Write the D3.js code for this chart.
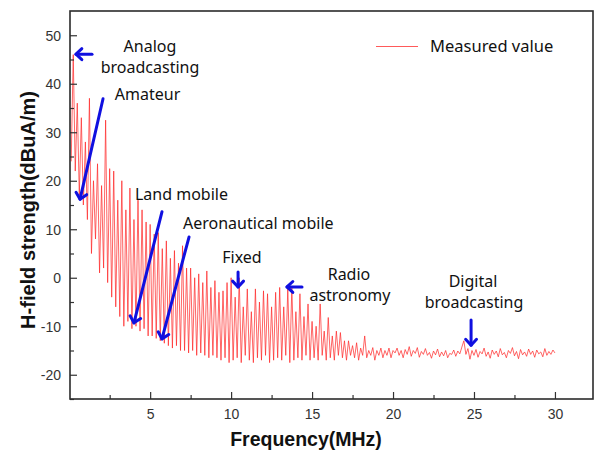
<!DOCTYPE html>
<html>
<head>
    <style>
        body { margin: 0; background: #fff; }
        svg { display: block; }
    </style>
</head>
<body>
    <svg width="596" height="452"></svg>

    <script src="https://d3js.org/d3.v7.min.js"></script>
    <script>
        // Measured H-field (dBuA/m), sampled every 0.125 MHz, one array per 5 MHz band
        const fStep = 0.125;
        const h0_5 = [24, 46, 22, 36, 17, 33, 15, 28, 12, 37, 5, 20, 8, 23.5, 1, 19, 2, 32.5, -1, 22.5,
                      -4, 22, -6, 16, -8, 20, -10, 14, -9, 18.5, -10.5, 12, -10, 16, -11, 14, -10.5, 11.5, -12, 11];
        const h5_10 = [-12, 9, -12.5, 9.3, -13, 6, -13.5, 7.6, -14, 4, -14.5, 5.6, -14, 3, -15, 6.6, -15, 2, -15.5, 2,
                       -15, 0, -16, 0.8, -15.5, -1, -16, 1.4, -16.5, -2, -16, -0.6, -16.5, -3, -17, -2.7, -16.5, -1, -17.5, 0];
        const h10_15 = [-17, -4, -16.5, 0, -17.5, -6, -16, -2.3, -17, -7, -17.5, -2.3, -16.5, -5, -17, -2.7, -16, -3.3, -17.5, -6,
                        -17, -3, -16.5, -2, -17, -6, -16, -2.3, -17.5, -2, -17, -7, -16.5, -3.3, -17, -8, -16, -5.4, -17, -9];
        const h15_20 = [-16.5, -10, -17, -5.4, -16, -11, -17, -8.2, -16.5, -12, -17, -11, -16, -11.3, -16.5, -13, -17, -13, -16, -14,
                        -16.5, -13.4, -17, -14.5, -16, -12, -16.5, -15, -16, -14.4, -17, -15, -16, -14.5, -16.5, -15, -16, -14.5, -16.5, -15];
        const h20_25 = [-15.5, -14.5, -16, -15, -16.5, -14.8, -15.8, -14.2, -16.2, -15, -15.6, -14.4, -16.4, -15.2, -15.8, -14.6, -16, -15.4, -16.6, -15.1,
                        -15.9, -14.7, -16.3, -15.3, -16.1, -15, -16.5, -15.6, -15.8, -14.9, -16.2, -15.1, -15.7, -14.3, -13, -15.8, -14.6, -16.8, -15, -16];
        const h25_30 = [-14.8, -16.4, -15.2, -15.7, -14.5, -16.2, -15.3, -16.6, -14.9, -15.8, -15.1, -16.3, -14.6, -15.9, -15.4, -16.5, -15, -15.6, -14.4, -16.1,
                        -15.2, -16.7, -14.8, -15.9, -15.3, -16.2, -14.7, -15.8, -15.1, -16.4, -14.9, -15.7, -15.3, -16.3, -14.6, -16, -15.2, -15.8, -14.9, -15.5];

        const xTicks = [5, 10, 15, 20, 25, 30];
        const yTicks = [-20, -10, 0, 10, 20, 30, 40, 50];

        // annotations, anchored in data units (MHz, dBuA/m)
        const labels = [
            { text: "Analog", f: 4.99, v: 46.5, anchor: "middle" },
            { text: "broadcasting", f: 4.99, v: 42.2, anchor: "middle" },
            { text: "Amateur", f: 4.84, v: 36.6, anchor: "middle" },
            { text: "Land mobile", f: 4.06, v: 16.0, anchor: "start" },
            { text: "Aeronautical mobile", f: 7.03, v: 10.05, anchor: "start" },
            { text: "Fixed", f: 10.67, v: 3.0, anchor: "middle" },
            { text: "Radio", f: 17.28, v: -0.4, anchor: "middle" },
            { text: "astronomy", f: 17.34, v: -4.7, anchor: "middle" },
            { text: "Digital", f: 24.94, v: -2.0, anchor: "middle" },
            { text: "broadcasting", f: 25.0, v: -6.3, anchor: "middle" }
        ];
        const arrows = [
            { f0: 1.41, v0: 46.1, f1: 0.42, v1: 46.1 },
            { f0: 2.09, v0: 36.9, f1: 0.67, v1: 16.2 },
            { f0: 5.73, v0: 13.6, f1: 4.0, v1: -9.3 },
            { f0: 7.4, v0: 8.4, f1: 5.73, v1: -12.6 },
            { f0: 10.43, v0: 1.2, f1: 10.43, v1: -1.9 },
            { f0: 14.38, v0: -1.9, f1: 13.45, v1: -1.9 },
            { f0: 24.82, v0: -8.7, f1: 24.82, v1: -13.9 }
        ];

        const svg = d3.select("svg");
        const plotL = 70, plotR = 593, plotT = 11, plotB = 399;

        const x = d3.scaleLinear().domain([0.05, 32.35]).range([plotL, plotR]);
        const y = d3.scaleLinear().domain([-25, 55]).range([plotB, plotT]);

        const values = [].concat(h0_5, h5_10, h10_15, h15_20, h20_25, h25_30);
        const data = values.map((v, i) => ({ f: (i + 1) * fStep, v: v }));

        // measured trace
        svg.append("path")
            .datum(data)
            .attr("fill", "none")
            .attr("stroke", "#ff2a2a")
            .attr("stroke-width", 1)
            .attr("stroke-opacity", 0.72)
            .attr("d", d3.line().x(d => x(d.f)).y(d => y(d.v)));

        // axes, ticks pointing inward
        const xAxis = svg.append("g")
            .attr("transform", `translate(0,${plotB})`)
            .call(d3.axisBottom(x).tickValues(d3.range(2.5, 32.5, 2.5)).tickSize(-4).tickFormat(""));
        xAxis.selectAll(".tick line").filter(d => xTicks.includes(d)).attr("y2", -7);
        xAxis.selectAll(".tick")
            .filter(d => xTicks.includes(d))
            .append("text")
            .attr("y", 20)
            .attr("fill", "#333")
            .text(d => d);

        const yAxis = svg.append("g")
            .attr("transform", `translate(${plotL},0)`)
            .call(d3.axisLeft(y).tickValues(d3.range(-25, 55, 5)).tickSize(-4).tickFormat(""));
        yAxis.selectAll(".tick line").filter(d => yTicks.includes(d)).attr("x2", 7);
        yAxis.selectAll(".tick")
            .filter(d => yTicks.includes(d))
            .append("text")
            .attr("x", -9)
            .attr("dy", "0.35em")
            .attr("fill", "#333")
            .text(d => d);

        svg.selectAll(".tick text")
            .attr("font-family", "Arial, 'Liberation Sans', sans-serif")
            .attr("font-size", 14);
        svg.selectAll(".tick line").attr("stroke", "#333").attr("stroke-width", 1.2);
        svg.selectAll(".domain").remove();

        svg.append("rect")
            .attr("x", plotL).attr("y", plotT)
            .attr("width", plotR - plotL).attr("height", plotB - plotT)
            .attr("fill", "none")
            .attr("stroke", "#2b2b2b")
            .attr("stroke-width", 1.6);

        // axis titles
        svg.append("text")
            .attr("x", 306).attr("y", 446)
            .attr("text-anchor", "middle")
            .attr("font-family", "Arial, 'Liberation Sans', sans-serif")
            .attr("font-weight", "bold")
            .attr("font-size", 19.5)
            .attr("fill", "#111")
            .text("Frequency(MHz)");

        svg.append("text")
            .attr("transform", "translate(35,210) rotate(-90)")
            .attr("text-anchor", "middle")
            .attr("font-family", "Arial, 'Liberation Sans', sans-serif")
            .attr("font-weight", "bold")
            .attr("font-size", 20)
            .attr("fill", "#111")
            .text("H-field strength(dBuA/m)");

        // legend
        svg.append("line")
            .attr("x1", 376).attr("x2", 418)
            .attr("y1", 46.5).attr("y2", 46.5)
            .attr("stroke", "#ff5a5a")
            .attr("stroke-width", 1.2);
        svg.append("text")
            .attr("x", 430).attr("y", 52)
            .attr("font-family", "'Noto Sans', sans-serif")
            .attr("font-size", 16.5)
            .attr("fill", "#111")
            .text("Measured value");

        // annotation labels
        svg.append("g")
            .selectAll("text")
            .data(labels)
            .join("text")
            .attr("x", d => x(d.f))
            .attr("y", d => y(d.v))
            .attr("text-anchor", d => d.anchor)
            .attr("font-family", "'Noto Sans', sans-serif")
            .attr("font-size", 16)
            .attr("fill", "#111")
            .text(d => d.text);

        // annotation arrows with open V heads
        const ag = svg.append("g")
            .attr("stroke", "#1010e0")
            .attr("stroke-width", 3)
            .attr("fill", "none")
            .attr("stroke-linecap", "round")
            .attr("stroke-linejoin", "round");
        arrows.forEach(a => {
            const x0 = x(a.f0), y0 = y(a.v0), x1 = x(a.f1), y1 = y(a.v1);
            const ang = Math.atan2(y1 - y0, x1 - x0);
            const hl = 8, spread = 0.75;
            ag.append("line").attr("x1", x0).attr("y1", y0).attr("x2", x1).attr("y2", y1);
            ag.append("path").attr("d",
                `M${x1 - hl * Math.cos(ang - spread)},${y1 - hl * Math.sin(ang - spread)}` +
                `L${x1},${y1}` +
                `L${x1 - hl * Math.cos(ang + spread)},${y1 - hl * Math.sin(ang + spread)}`);
        });
    </script>
</body>
</html>
